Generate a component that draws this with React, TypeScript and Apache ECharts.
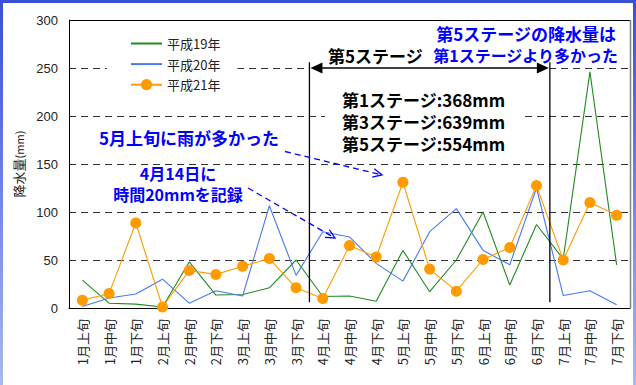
import { useEffect, useRef } from 'react';
import * as echarts from 'echarts';

// 旬ごとの降水量 (mm)
const categories = [
  '1月上旬', '1月中旬', '1月下旬', '2月上旬', '2月中旬', '2月下旬',
  '3月上旬', '3月中旬', '3月下旬', '4月上旬', '4月中旬', '4月下旬',
  '5月上旬', '5月中旬', '5月下旬', '6月上旬', '6月中旬', '6月下旬',
  '7月上旬', '7月中旬', '7月下旬',
];
const seriesNames = ['平成19年', '平成20年', '平成21年'];
const rainH19 = [29, 5, 4, 1, 48, 13.5, 14, 21, 50, 12, 12.5, 7, 60, 17, 50, 100, 24, 87, 51, 246, 45];
const rainH20 = [1.5, 10.5, 14.5, 30, 5, 18, 12.5, 106.5, 34, 79.5, 74, 46.5, 28, 79.5, 103.5, 60, 45, 125, 13, 18, 3.5];
const rainH21 = [8, 15, 88.5, 1, 39, 35, 43.5, 51.5, 21, 10, 65, 53, 131, 40.5, 17.5, 50.5, 63, 127.5, 50, 110, 96.5];
const seriesColors = ['#1f8a1f', '#4a78f0', '#ff9a00'];

const yMin = 0;
const yMax = 300;
const yInterval = 50;

const stageTotals = ['第1ステージ:368mm', '第3ステージ:639mm', '第5ステージ:554mm'];
const stageLabel = '第5ステージ';
const stageNote = ['第5ステージの降水量は', '第1ステージより多かった'];
const noteMay = '5月上旬に雨が多かった';
const noteApril = ['4月14日に', '時間20mmを記録'];

const JP = '"Noto Sans CJK JP", "Noto Sans", sans-serif';
const LATIN = '"Liberation Sans", Arial, sans-serif';
const BLUE = '#0000ff';

const GRID = { left: 69, top: 20, right: 6, bottom: 77 };
const W = 636;
const H = 385;

function openHead(tx: number, ty: number, fx: number, fy: number, len: number) {
  // chevron pointing from (fx,fy) towards (tx,ty)
  const a = Math.atan2(ty - fy, tx - fx);
  const s = 0.45;
  return [
    [tx - len * Math.cos(a - s), ty - len * Math.sin(a - s)],
    [tx, ty],
    [tx - len * Math.cos(a + s), ty - len * Math.sin(a + s)],
  ];
}

export default function App() {
  const ref = useRef<HTMLDivElement>(null);

  useEffect(() => {
    const chart = echarts.init(ref.current!, null, { renderer: 'svg' });
    chart.setOption({
      animation: false,
      backgroundColor: '#ffffff',
      grid: { ...GRID, containLabel: false },
      legend: {
        orient: 'vertical',
        left: 107,
        top: 30,
        padding: [7, 17, 7, 23],
        itemWidth: 31,
        itemHeight: 14,
        itemGap: 7.6,
        backgroundColor: '#ffffff',
        data: [
          { name: seriesNames[0], itemStyle: { opacity: 0 } },
          { name: seriesNames[1], itemStyle: { opacity: 0 } },
          { name: seriesNames[2] },
        ],
        textStyle: { fontFamily: JP, fontSize: 13, color: '#222' },
      },
      xAxis: {
        type: 'category',
        data: categories,
        boundaryGap: true,
        axisLine: { lineStyle: { color: '#000', width: 1 } },
        axisTick: { inside: true, length: 4, lineStyle: { color: '#000' } },
        axisLabel: {
          interval: 0,
          rotate: 90,
          margin: 11,
          fontFamily: JP,
          fontSize: 13,
          color: '#222',
        },
        splitLine: { show: false },
      },
      yAxis: {
        type: 'value',
        min: yMin,
        max: yMax,
        interval: yInterval,
        name: '{a|降水量}{b|(mm)}',
        nameLocation: 'middle',
        nameGap: 42,
        nameTextStyle: {
          rich: {
            a: { fontFamily: JP, fontSize: 13, color: '#222' },
            b: { fontFamily: JP, fontSize: 11, color: '#222' },
          },
        },
        axisLine: { show: true, lineStyle: { color: '#000', width: 1 } },
        axisTick: { show: false },
        axisLabel: { margin: 11, fontFamily: LATIN, fontSize: 13, color: '#222' },
        splitLine: { lineStyle: { color: '#333', width: 1, type: [7, 5] } },
      },
      series: [
        {
          name: seriesNames[0],
          type: 'line',
          data: rainH19,
          symbol: 'none',
          color: seriesColors[0],
          lineStyle: { width: 1.1, color: seriesColors[0] },
          z: 2,
        },
        {
          name: seriesNames[1],
          type: 'line',
          data: rainH20,
          symbol: 'none',
          color: seriesColors[1],
          lineStyle: { width: 1.1, color: seriesColors[1] },
          z: 3,
        },
        {
          name: seriesNames[2],
          type: 'line',
          data: rainH21,
          symbol: 'circle',
          symbolSize: 11,
          color: seriesColors[2],
          itemStyle: { color: seriesColors[2] },
          lineStyle: { width: 1.1, color: seriesColors[2] },
          z: 4,
        },
      ],
    });

    // stage boundaries sit between category bands
    const cx = (i: number) => chart.convertToPixel({ xAxisIndex: 0 }, categories[i]) as number;
    const cy = (v: number) => chart.convertToPixel({ yAxisIndex: 0 }, v) as number;
    const half = (cx(1) - cx(0)) / 2;
    const xStart = cx(9) - half;
    const xEnd = cx(17) + half;
    const yArrow = cy(250);
    const yLineTop = cy(256);
    const yLineBottom = cy(6);
    const right = W - GRID.right;
    const bottom = H - GRID.bottom;

    const vGrad = new echarts.graphic.LinearGradient(0, 0, 0, 1, [
      { offset: 0, color: '#3a4fd6' },
      { offset: 1, color: '#a8b8f2' },
    ]);

    const head1 = openHead(382, 175, 285, 151.5, 10);
    const head2 = openHead(335, 238, 248, 188, 10);

    const bold = (text: string, x: number, y: number, color: string, align: string, size = 17) => ({
      type: 'text',
      z: 20,
      style: {
        text,
        x,
        y,
        fill: color,
        align,
        verticalAlign: 'middle',
        font: `bold ${size}px ${JP}`,
      },
    });

    chart.setOption({
      graphic: [
        // outer frame bands
        { type: 'rect', z: 30, shape: { x: 0, y: 0, width: W, height: 3 }, style: { fill: '#3a4fd6' } },
        { type: 'rect', z: 30, shape: { x: 0, y: 0, width: 3, height: H }, style: { fill: vGrad } },
        { type: 'rect', z: 30, shape: { x: W - 3, y: 0, width: 3, height: H }, style: { fill: vGrad } },
        // plot frame top / right
        { type: 'line', z: 10, shape: { x1: GRID.left, y1: GRID.top + 0.5, x2: right + 1, y2: GRID.top + 0.5 }, style: { stroke: '#000', lineWidth: 1 } },
        { type: 'line', z: 10, shape: { x1: right + 0.5, y1: GRID.top, x2: right + 0.5, y2: bottom }, style: { stroke: '#808080', lineWidth: 1.5 } },
        // stage 5 bracket
        { type: 'line', z: 10, shape: { x1: xStart, y1: yLineTop, x2: xStart, y2: yLineBottom }, style: { stroke: '#000', lineWidth: 1.3 } },
        { type: 'line', z: 10, shape: { x1: xEnd, y1: yLineTop, x2: xEnd, y2: yLineBottom }, style: { stroke: '#000', lineWidth: 1.3 } },
        { type: 'rect', z: 9, shape: { x: xStart, y: yArrow - 2, width: xEnd - xStart, height: 4 }, style: { fill: '#fff' } },
        { type: 'line', z: 10, shape: { x1: xStart + 4, y1: yArrow, x2: xEnd - 4, y2: yArrow }, style: { stroke: '#000', lineWidth: 1.5 } },
        { type: 'polygon', z: 10, shape: { points: [[xStart + 1, yArrow], [xStart + 13, yArrow - 5.5], [xStart + 13, yArrow + 5.5]] }, style: { fill: '#000' } },
        { type: 'polygon', z: 10, shape: { points: [[xEnd - 1, yArrow], [xEnd - 13, yArrow - 5.5], [xEnd - 13, yArrow + 5.5]] }, style: { fill: '#000' } },
        bold(stageLabel, 328, 55, '#000', 'left'),
        bold(stageNote[0], 616, 33, BLUE, 'right'),
        bold(stageNote[1], 618, 55, BLUE, 'right', 16),
        // totals box
        { type: 'rect', z: 9, shape: { x: 325, y: 84, width: 200, height: 72 }, style: { fill: '#fff' } },
        bold(stageTotals[0], 342, 99, '#000', 'left'),
        bold(stageTotals[1], 342, 121, '#000', 'left'),
        bold(stageTotals[2], 342, 143, '#000', 'left'),
        // callouts
        bold(noteMay, 189, 137, BLUE, 'center'),
        bold(noteApril[0], 178, 173, BLUE, 'center', 16),
        bold(noteApril[1], 178, 194, BLUE, 'center', 16),
        { type: 'line', z: 12, shape: { x1: 285, y1: 151.5, x2: 381, y2: 174.7 }, style: { stroke: BLUE, lineWidth: 1.3, lineDash: [6, 4] } },
        { type: 'polyline', z: 12, shape: { points: head1 }, style: { stroke: BLUE, lineWidth: 1.3, fill: null } },
        { type: 'line', z: 12, shape: { x1: 248, y1: 188, x2: 334, y2: 237.5 }, style: { stroke: BLUE, lineWidth: 1.3, lineDash: [6, 4] } },
        { type: 'polyline', z: 12, shape: { points: head2 }, style: { stroke: BLUE, lineWidth: 1.3, fill: null } },
      ],
    });

    return () => chart.dispose();
  }, []);

  return (
    <div
      ref={ref}
      style={{ position: 'fixed', left: 0, top: 0, width: W, height: H, background: '#fff' }}
    />
  );
}
